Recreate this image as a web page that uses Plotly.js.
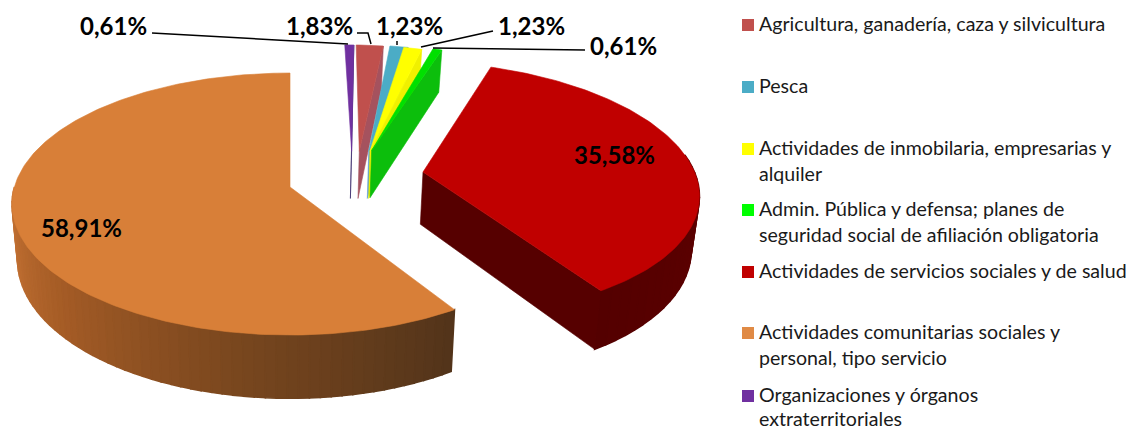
<!DOCTYPE html>
<html><head><meta charset="utf-8">
<script src="https://cdn.plot.ly/plotly-3.0.1.min.js"></script>
<style>html,body{margin:0;padding:0;background:#fff}#c{width:1131px;height:430px}</style>
</head><body><div id="c"></div>
<script>
// ---- data (legend order, clockwise round the pie) ----
const categories = ["Agricultura, ganadería, caza y silvicultura","Pesca","Actividades de inmobilaria, empresarias y alquiler","Admin. Pública y defensa; planes de seguridad social de afiliación obligatoria","Actividades de servicios sociales y de salud","Actividades comunitarias sociales y personal, tipo servicio","Organizaciones y órganos extraterritoriales"];
const sliceValues = [1.83,1.23,1.23,0.61,35.58,58.91,0.61];
const valueLabels = ["1,83%","1,23%","1,23%","0,61%","35,58%","58,91%","0,61%"];
const legendLines = [["Agricultura, ganadería, caza y silvicultura"],["Pesca"],["Actividades de inmobilaria, empresarias y","alquiler"],["Admin. Pública y defensa; planes de","seguridad social de afiliación obligatoria"],["Actividades de servicios sociales y de salud"],["Actividades comunitarias sociales y","personal, tipo servicio"],["Organizaciones y órganos","extraterritoriales"]];
// ---- style ----
const topColors = ["#C0504D","#4BACC6","#FFFF00","#00E000","#C00000","#D87F38","#7030A0"];
const cutColors = ["#A5525E","#5A9AD0","#F0F000","#0CBE0C","#560000","#8A4F20","#2A1A60"];
const swatchColors = ["#C0504D","#4BACC6","#FFFF00","#00FF00","#C00000","#E08A45","#7030A0"];
const pullX = [0.242,0.27,0.252,0.30,0.49,0,0.232];
const pullY = [0.288,0.288,0.288,0.294,0.118,0,0.288];
const apexShift = [5,7,13,2,0,0,0];
const depths = [49,49,49,49,53,55,49];
const legendY = [25,87,149,210,272,333,396];
const labelPos = [[319,25],[409,25],[531,25],[623,45],[614,154],[81,227],[113,25]];
// ---- projection of the tilted pie ----
const cx=290, cy=187, A=275.6, B=128.8, K=0.13, SHRINK=0.98;
function upper(X,Y){const w=1+K*Y;return [cx+A*X/w, cy-B*Y/w];}
function lower(X,Y,d){const w=1+K*Y;return [cx+SHRINK*A*X/w, cy-B*Y/w+d/w];}
const rad=a=>a*Math.PI/180;
function rim(i,a){return [pullX[i]+Math.cos(rad(a)), pullY[i]+Math.sin(rad(a))];}
function apexTop(i){const p=upper(pullX[i],pullY[i]);return [p[0]+apexShift[i],p[1]];}
function apexBot(i){const p=lower(pullX[i],pullY[i],depths[i]);return [p[0]+apexShift[i],p[1]];}
// slice angles from the values
let ang=90-sliceValues[6]*3.6, spans=[];
sliceValues.forEach((v,i)=>{spans.push([ang,ang-v*3.6]);ang-=v*3.6;});
function poly(pts,color,name,lw){return {type:'scatter',mode:'lines',x:pts.map(p=>p[0]),y:pts.map(p=>p[1]),fill:'toself',fillcolor:color,line:{color:color,width:lw||0.6},hoverinfo:'skip',name:name,showlegend:false};}
function topFace(i){const [a,b]=spans[i];const n=Math.max(4,Math.ceil(Math.abs(a-b)));const p=[apexTop(i)];
  for(let j=0;j<=n;j++){const r=rim(i,a+(b-a)*j/n);p.push(upper(r[0],r[1]));}
  p.push(p[0]);return poly(p,topColors[i],categories[i]);}
function cutFace(i,a){const d=depths[i];const r=rim(i,a);
  const p=[apexTop(i),upper(r[0],r[1]),lower(r[0],r[1],d),apexBot(i)];p.push(p[0]);return poly(p,cutColors[i],categories[i]);}
function mix(stops,t){const n=stops.length-1,k=Math.min(n-1,Math.floor(t*n)),f=t*n-k;const c=[0,1,2].map(q=>Math.round(stops[k][q]+(stops[k+1][q]-stops[k][q])*f));return `rgb(${c})`;}
function wall(i,a0,a1,stops,n){const out=[],d=depths[i];for(let j=0;j<n;j++){const a=a0+(a1-a0)*j/n,b=a0+(a1-a0)*(j+1)/n;
  const r=rim(i,a),s=rim(i,b);const p=[upper(r[0],r[1]),upper(s[0],s[1]),lower(s[0],s[1],d),lower(r[0],r[1],d)];p.push(p[0]);out.push(poly(p,mix(stops,(j+.5)/n),categories[i],1.6));}return out;}
// draw back to front
let traces=[];
[6,0,1,2,3].forEach(i=>{traces.push(cutFace(i,spans[i][1]));traces.push(topFace(i));});
traces=traces.concat(wall(4,8,spans[4][1],[[96,0,0],[90,0,0],[84,0,0]],24));
traces.push(cutFace(4,spans[4][1]));traces.push(topFace(4));
const oEnd=spans[5][0]+360;
traces=traces.concat(wall(5,180,oEnd,[[205,120,55],[165,92,38],[120,70,30],[82,52,26]],60));
traces.push(topFace(5));
// legend swatches + text, value labels, leaders
const shapes=[],annotations=[];
const FONT="Lato, Carlito, sans-serif";
legendLines.forEach((ls,i)=>{
  shapes.push({type:'rect',xref:'x',yref:'y',x0:742,x1:754,y0:legendY[i]-6,y1:legendY[i]+6,fillcolor:swatchColors[i],line:{width:0}});
  ls.forEach((t,j)=>annotations.push({xref:'x',yref:'y',x:757,y:Math.min(legendY[i]+j*26-2,418),text:t,showarrow:false,xanchor:'left',yanchor:'middle',font:{family:FONT,size:19.6,color:'#1a1a1a'}}));
});
valueLabels.forEach((t,i)=>annotations.push({xref:'x',yref:'y',x:labelPos[i][0],y:labelPos[i][1],text:'<b>'+t+'</b>',showarrow:false,xanchor:'center',yanchor:'middle',font:{family:FONT,size:24,color:'#000'}}));
[ "M152,33 L348,44","M357,33 L368,33 L371,44","M397,41 L397,45","M421,47 L493,31","M433,48 L585,50" ].forEach(path=>shapes.push({type:'path',xref:'x',yref:'y',path:path,line:{color:'#000',width:1.5}}));
const hidden={visible:false,fixedrange:true};
Plotly.newPlot('c',traces,{width:1131,height:430,margin:{l:0,r:0,t:0,b:0},paper_bgcolor:'#fff',plot_bgcolor:'#fff',showlegend:false,
  xaxis:Object.assign({range:[0,1131]},hidden),yaxis:Object.assign({range:[430,0]},hidden),shapes:shapes,annotations:annotations},{displayModeBar:false,staticPlot:true});
</script></body></html>
